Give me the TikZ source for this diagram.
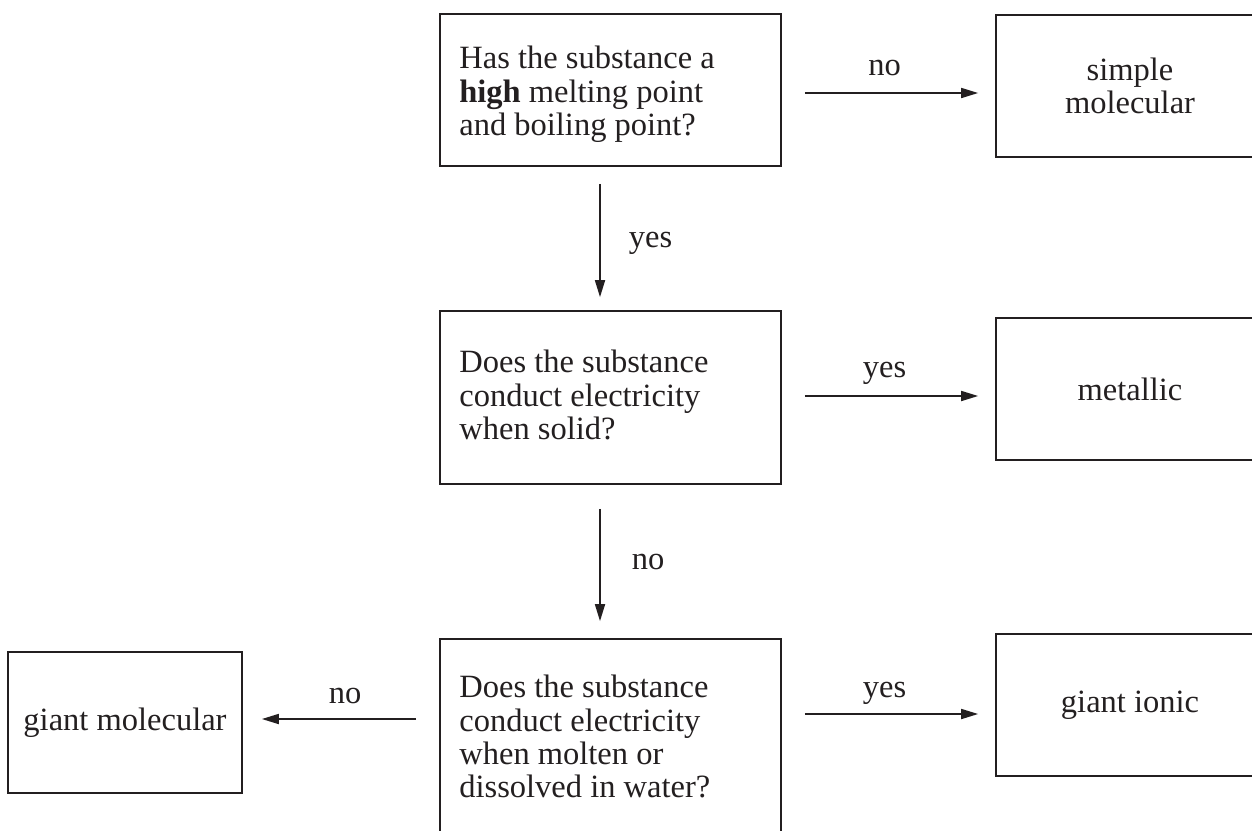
\documentclass[tikz,border=0pt]{standalone}
\usepackage{fontspec}
\setmainfont{Liberation Serif}
\usetikzlibrary{arrows.meta,calc}
\definecolor{ink}{HTML}{231F20}
\begin{document}
\begin{tikzpicture}[x=1pt,y=-1pt,
  font=\fontsize{32.5}{33.2}\selectfont,
  box/.style={draw=ink, line width=1.7pt, rectangle, inner sep=0pt},
  outbox/.style={box, align=center, text=ink, minimum height=142pt},
  qtext/.style={anchor=north west, inner sep=0pt, align=left, text=ink},
  arr/.style={draw=ink, line width=1.7pt, -{Triangle[length=17pt,width=10pt]}},
  lab/.style={text=ink, inner sep=0pt}]
\useasboundingbox (0,0) rectangle (1252,830);

% question boxes
\node[box, minimum width=341pt, minimum height=152pt] (q1) at (610.5,90) {};
\node[qtext] (q1t) at ([shift={(20,33)}]q1.north west) {Has the substance a\\\textbf{high} melting point\\and boiling point?};
\node[box, minimum width=341pt, minimum height=173pt] (q2) at (610.5,397.5) {};
\node[qtext] (q2t) at ([shift={(20,40)}]q2.north west) {Does the substance\\conduct electricity\\when solid?};
\node[box, minimum width=341pt, minimum height=202pt] (q3) at (610.5,740) {};
\node[qtext] (q3t) at ([shift={(20,37)}]q3.north west) {Does the substance\\conduct electricity\\when molten or\\dissolved in water?};

% outcome boxes
\node[outbox, minimum width=268pt] (r1) at (1130,86) {simple\\molecular};
\node[outbox, minimum width=268pt] (r2) at (1130,389) {metallic};
\node[outbox, minimum width=268pt] (r3) at (1130,705) {giant ionic};
\node[outbox, minimum width=234pt, minimum height=141pt] (l3) at (125,722.5) {giant molecular};

% helper coordinates
\coordinate (h1) at (0,93);
\coordinate (h2) at (0,396);
\coordinate (h3) at (0,714);
\coordinate (h4) at (0,719);
\coordinate (v) at (600,0);

% horizontal arrows
\draw[arr] ($(q1.east |- h1)+(23,0)$) -- ($(r1.west |- h1)+(-17,0)$)
  node[lab, pos=0.46, anchor=base, yshift=18pt] {no};
\draw[arr] ($(q2.east |- h2)+(23,0)$) -- ($(r2.west |- h2)+(-17,0)$)
  node[lab, pos=0.46, anchor=base, yshift=19pt] {yes};
\draw[arr] ($(q3.east |- h3)+(23,0)$) -- ($(r3.west |- h3)+(-17,0)$)
  node[lab, pos=0.46, anchor=base, yshift=17pt] {yes};
\draw[arr] ($(q3.west |- h4)+(-23,0)$) -- ($(l3.east |- h4)+(19,0)$)
  node[lab, pos=0.46, anchor=base, yshift=16pt] {no};

% vertical arrows
\draw[arr] ($(q1.south -| v)+(0,17)$) -- ($(q2.north -| v)+(0,-13)$)
  node[lab, midway, anchor=base west, xshift=28pt, yshift=-6.5pt] {yes};
\draw[arr] ($(q2.south -| v)+(0,24)$) -- ($(q3.north -| v)+(0,-17)$)
  node[lab, midway, anchor=base west, xshift=31pt, yshift=-4pt] {no};
\end{tikzpicture}
\end{document}
